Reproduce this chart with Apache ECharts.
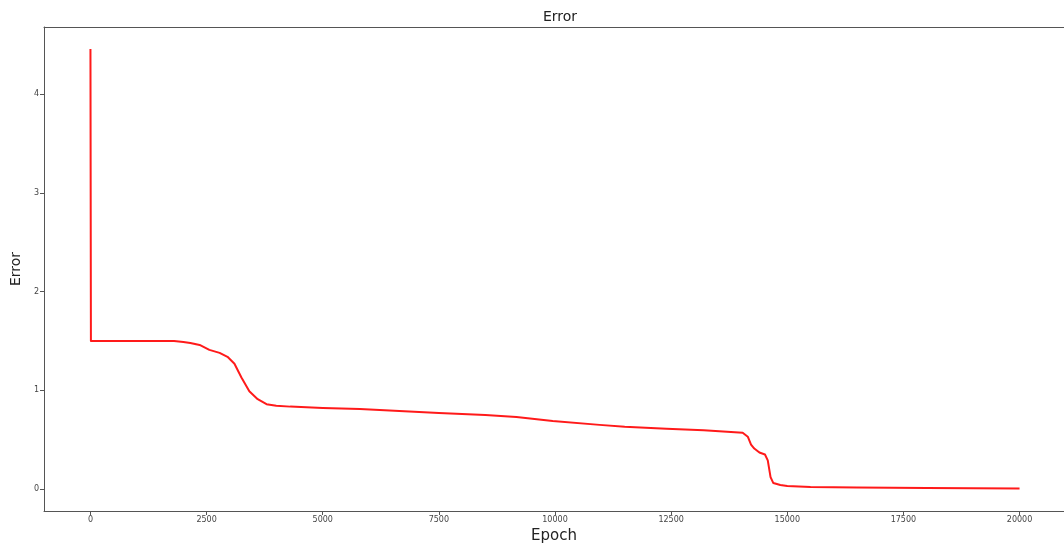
<!DOCTYPE html>
<html>
<head>
<meta charset="utf-8">
<title>Error</title>
<script src="https://cdn.jsdelivr.net/npm/echarts@6/dist/echarts.min.js"></script>
<style>
	html, body { margin: 0; padding: 0; background: #fff; }
	#main { width: 1064px; height: 550px; }
</style>
</head>
<body>
<div id="main"></div>
<script>
// 训练误差曲线
var epochs = [0, 10, 500, 1000, 1500, 1800, 2000, 2150, 2350, 2560, 2780, 2950, 3100, 3250, 3420, 3600, 3790,
	4000, 4300, 5000, 5800, 6650, 7500, 8500, 9170, 9950, 10960, 11500, 12400, 13200, 14040, 14150, 14220,
	14290, 14400, 14520, 14580, 14640, 14700, 14850, 15000, 15500, 16500, 18000, 20000];
var errors = [4.46, 1.50, 1.50, 1.50, 1.50, 1.50, 1.49, 1.48, 1.46, 1.41, 1.38, 1.34, 1.27, 1.13, 0.99, 0.91, 0.86,
	0.845, 0.835, 0.82, 0.81, 0.79, 0.77, 0.75, 0.73, 0.69, 0.65, 0.63, 0.61, 0.595, 0.57, 0.53, 0.45,
	0.41, 0.37, 0.35, 0.29, 0.12, 0.06, 0.04, 0.03, 0.02, 0.015, 0.01, 0.006];
var xTicks = [0, 2500, 5000, 7500, 10000, 12500, 15000, 17500, 20000];
var yTicks = [0, 1, 2, 3, 4];

function errorLine(divId) {
	var dom = document.getElementById(divId);
	var chart = echarts.getInstanceByDom(dom);
	if (chart == '' || chart == undefined || chart == null) {
		chart = echarts.init(dom);
	} else {
		chart.clear();
	}

	var data = [];
	for (var i = 0; i < epochs.length; i++) {
		data.push([epochs[i], errors[i]]);
	}
	var font = 'DejaVu Sans';
	var axisColor = '#555';
	var option = {
		animation: false,
		title: {
			left: 538,
			top: 5,
			text: 'Error',
			textStyle: {
				fontFamily: font,
				fontSize: 14,
				fontWeight: 'normal',
				color: '#222'
			}
		},
		grid: {
			left: 44,
			right: 0,
			top: 27,
			bottom: 39
		},
		xAxis: [{
			type: 'value',
			min: -1000,
			max: 20957,
			name: 'Epoch',
			nameLocation: 'middle',
			nameGap: 17,
			nameTextStyle: { fontFamily: font, fontSize: 15, color: '#222' },
			splitLine: { show: false },
			axisLine: { show: true, onZero: false, lineStyle: { color: axisColor } },
			axisTick: { show: true, length: 4, customValues: xTicks, lineStyle: { color: axisColor } },
			axisLabel: {
				customValues: xTicks, fontFamily: font, fontSize: 8, color: '#444', margin: 5,
				formatter: function (v) { return String(v); }
			}
		}, {
			// 上边框
			type: 'value',
			position: 'top',
			min: -1000,
			max: 20957,
			splitLine: { show: false },
			axisLine: { show: true, onZero: false, lineStyle: { color: axisColor } },
			axisTick: { show: false },
			axisLabel: { show: false }
		}],
		yAxis: {
			type: 'value',
			min: -0.223,
			max: 4.683,
			name: 'Error',
			nameLocation: 'middle',
			nameGap: 19,
			nameTextStyle: { fontFamily: font, fontSize: 14, color: '#222' },
			splitLine: { show: false },
			axisLine: { show: true, onZero: false, lineStyle: { color: axisColor } },
			axisTick: { show: true, length: 4, customValues: yTicks, lineStyle: { color: axisColor } },
			axisLabel: {
				customValues: yTicks, fontFamily: font, fontSize: 8, color: '#444', margin: 5,
				formatter: function (v) { return String(v); }
			}
		},
		series: [{
			type: 'line',
			data: data,
			showSymbol: false,
			smooth: false,
			lineStyle: { color: '#ff1a1a', width: 2, join: 'round' }
		}]
	};
	chart.setOption(option, true);
	return chart;
}

errorLine('main');
</script>
</body>
</html>
